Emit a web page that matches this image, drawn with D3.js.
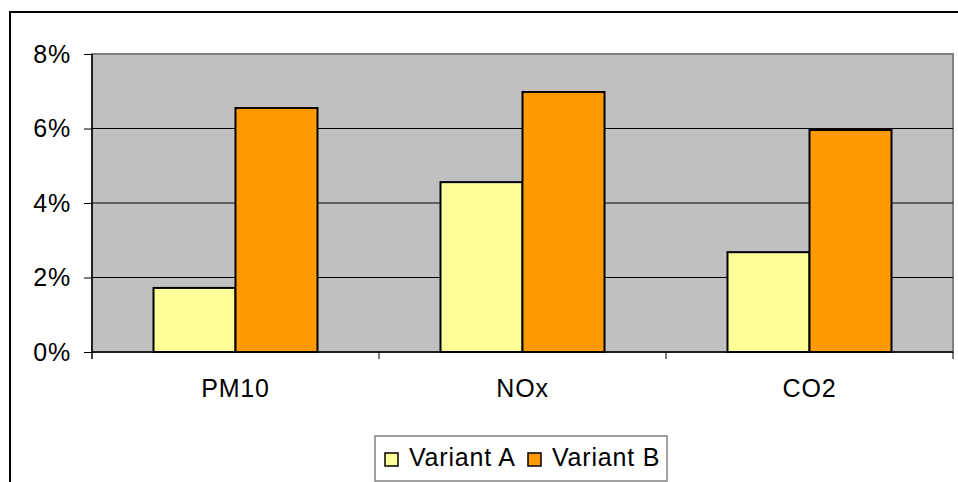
<!DOCTYPE html>
<html>
<head>
<meta charset="utf-8">
<script src="https://cdn.jsdelivr.net/npm/d3@7"></script>
<style>
  html, body { margin: 0; padding: 0; background: #fff; }
  svg { display: block; font-family: Arial, "Liberation Sans", sans-serif; }
  text { letter-spacing: 0.8px; }
</style>
</head>
<body>
<svg id="chart" width="958" height="482"></svg>
<script>
// Emission increase per pollutant, two variants (percent)
const categories = ["PM10", "NOx", "CO2"];
const seriesNames = ["Variant A", "Variant B"];
const variantA = [1.72, 4.56, 2.68];
const variantB = [6.55, 6.98, 5.96];
const yTicks = [0, 2, 4, 6, 8];
const colors = ["#FFFF99", "#FF9900"];

const svg = d3.select("#chart");
const plot = { left: 92, right: 953, top: 54, bottom: 352 };

// Chart frame
svg.append("rect")
  .attr("x", 10).attr("y", 12).attr("width", 1000).attr("height", 600)
  .attr("fill", "#fff").attr("stroke", "#000").attr("stroke-width", 2);

const y = d3.scaleLinear().domain([0, 8]).range([plot.bottom, plot.top]);
const x0 = d3.scaleBand().domain(categories).range([plot.left, plot.right]).padding(0);
const x1 = d3.scaleBand().domain(seriesNames).range([0, x0.bandwidth()])
  .paddingInner(0).paddingOuter(0.75);

// Plot area background
svg.append("rect")
  .attr("x", plot.left).attr("y", plot.top)
  .attr("width", plot.right - plot.left).attr("height", plot.bottom - plot.top)
  .attr("fill", "#C0C0C0").attr("stroke", "#808080").attr("stroke-width", 2);

// Gridlines
svg.append("g").selectAll("line")
  .data(yTicks.filter(t => t > 0 && t < 8))
  .join("line")
  .attr("x1", plot.left).attr("x2", plot.right)
  .attr("y1", d => y(d)).attr("y2", d => y(d))
  .attr("stroke", "#000").attr("stroke-width", 1);

// Bars
const data = categories.map((c, i) => ({ cat: c, values: [variantA[i], variantB[i]] }));
const groups = svg.append("g").selectAll("g")
  .data(data).join("g")
  .attr("transform", d => `translate(${x0(d.cat)},0)`);
groups.selectAll("rect")
  .data(d => d.values.map((v, j) => ({ name: seriesNames[j], v, j })))
  .join("rect")
  .attr("x", d => x1(d.name))
  .attr("y", d => y(d.v))
  .attr("width", x1.bandwidth())
  .attr("height", d => y(0) - y(d.v))
  .attr("fill", d => colors[d.j])
  .attr("stroke", "#000").attr("stroke-width", 2);

// Y axis
const yAxis = d3.axisLeft(y).tickValues(yTicks).tickFormat(d => d + "%").tickSize(8).tickPadding(13);
const gy = svg.append("g").attr("transform", `translate(${plot.left},0)`).call(yAxis);
gy.select(".domain").attr("stroke", "#000").attr("stroke-width", 1.5)
  .attr("d", `M0,${plot.top}V${plot.bottom + 7}`);
gy.selectAll(".tick line").attr("stroke", "#000");
gy.selectAll(".tick text").attr("font-size", 25).attr("fill", "#000")
  .attr("font-family", "Arial, 'Liberation Sans', sans-serif");

// X axis with tick marks at category boundaries
const gx = svg.append("g").attr("transform", `translate(0,${plot.bottom})`);
gx.append("line").attr("x1", plot.left).attr("x2", plot.right)
  .attr("y1", 0).attr("y2", 0).attr("stroke", "#000").attr("stroke-width", 1.5);
const boundaries = categories.map(c => x0(c) + x0.bandwidth());
gx.selectAll("line.tick").data(boundaries).join("line").attr("class", "tick")
  .attr("x1", d => d).attr("x2", d => d).attr("y1", 0).attr("y2", 7)
  .attr("stroke", "#000");
gx.selectAll("text").data(categories).join("text")
  .attr("x", d => x0(d) + x0.bandwidth() / 2)
  .attr("y", 45)
  .attr("text-anchor", "middle")
  .attr("font-size", 25)
  .attr("fill", "#000")
  .text(d => d);

// Legend
const legend = svg.append("g");
legend.append("rect")
  .attr("x", 375).attr("y", 436).attr("width", 292).attr("height", 45)
  .attr("fill", "#fff").attr("stroke", "#808080").attr("stroke-width", 1.5);
const legendX = [385, 528];
const items = legend.selectAll("g.item").data(seriesNames).join("g").attr("class", "item")
  .attr("transform", (d, i) => `translate(${legendX[i]},0)`);
items.append("rect")
  .attr("x", 0).attr("y", 453).attr("width", 13).attr("height", 13)
  .attr("fill", (d, i) => colors[i]).attr("stroke", "#000").attr("stroke-width", 1.5);
items.append("text")
  .attr("x", 24).attr("y", 466)
  .attr("font-size", 25).attr("fill", "#000")
  .text(d => d);
</script>
</body>
</html>
